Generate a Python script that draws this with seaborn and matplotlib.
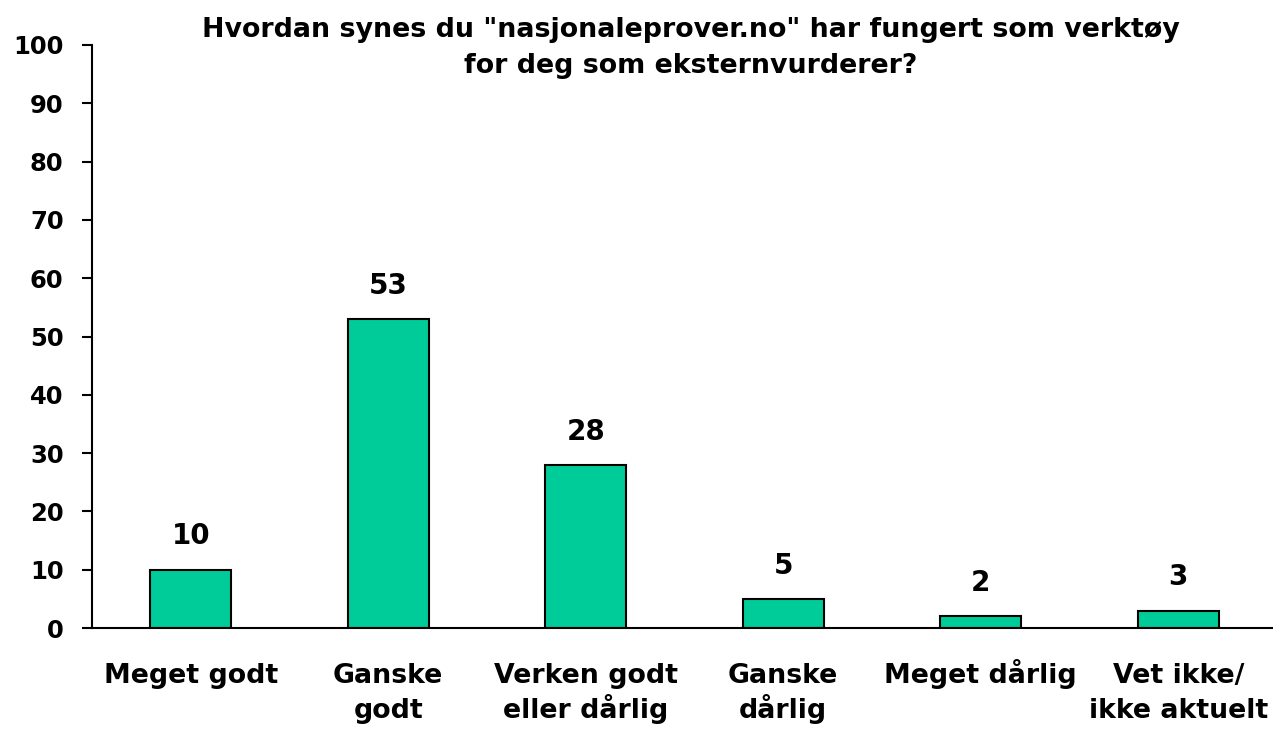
import numpy as np
import matplotlib
matplotlib.use("Agg")
import matplotlib.pyplot as plt
import seaborn as sns
import pandas as pd

categories = ["Meget godt", "Ganske\ngodt", "Verken godt\neller dårlig",
              "Ganske\ndårlig", "Meget dårlig", "Vet ikke/\nikke aktuelt"]
values = [10, 53, 28, 5, 2, 3]
y_ticks = [0, 10, 20, 30, 40, 50, 60, 70, 80, 90, 100]
title = 'Hvordan synes du "nasjonaleprover.no" har fungert som verktøy\nfor deg som eksternvurderer?'

sns.set_style("white")
plt.rcParams['font.family'] = ['DejaVu Sans']
plt.rcParams['font.weight'] = 'bold'
plt.rcParams['text.color'] = 'black'
plt.rcParams['xtick.color'] = 'black'
plt.rcParams['ytick.color'] = 'black'

df = pd.DataFrame({"cat": categories, "val": values})

fig = plt.figure(figsize=(12.73, 7.35), dpi=100)
ax = fig.add_axes([92 / 1273, 107 / 735, 1185 / 1273, 583 / 735])

sns.barplot(data=df, x="cat", y="val", color="#00CC99", width=0.41,
            edgecolor="black", linewidth=1.5, saturation=1, ax=ax)

for i, v in enumerate(values):
    ax.text(i, v + 3.3, str(v), ha="center", va="bottom",
            fontsize=20, fontweight="bold", color="black")

ax.set_xlim(-0.5, 5.5)
ax.set_ylim(0, 100)
ax.set_yticks(y_ticks)
ax.set_yticklabels([str(t) for t in y_ticks], fontsize=17.5, fontweight="bold")

# category labels: first line on the main axis, second line on a secondary axis
first_lines = [c.split("\n")[0] for c in categories]
second_lines = [c.split("\n")[1] if "\n" in c else "" for c in categories]

ax.set_xticks(range(len(categories)))
ax.set_xticklabels(first_lines, fontsize=19.3, fontweight="bold")
for lab in ax.get_xticklabels():
    lab.set_verticalalignment("baseline")
ax.set_xticks(np.arange(-0.5, 6.0, 1.0), minor=True)
ax.tick_params(axis="x", which="major", length=0, pad=39.5)
ax.tick_params(axis="x", which="minor", length=7, width=1.5, direction="out", color="black")
ax.tick_params(axis="y", length=7, width=1.5, direction="out", color="black", pad=13.5, left=True)
ax.set_xlabel("")
ax.set_ylabel("")

sec = ax.secondary_xaxis("bottom")
sec.set_xticks(range(len(categories)), labels=second_lines)
sec.tick_params(axis="x", length=0, pad=64.5, labelsize=19.3)
for lab in sec.get_xticklabels():
    lab.set_fontweight("bold")
    lab.set_verticalalignment("baseline")
sec.spines["bottom"].set_visible(False)

for side in ["top", "right"]:
    ax.spines[side].set_visible(False)
for side in ["left", "bottom"]:
    ax.spines[side].set_color("black")
    ax.spines[side].set_linewidth(1.5)

fig.text(691 / 1273, 1 - 17 / 735, title, ha="center", va="top",
         fontsize=19.4, fontweight="bold", linespacing=1.48, color="black")

fig.savefig("out.png", dpi=100)
